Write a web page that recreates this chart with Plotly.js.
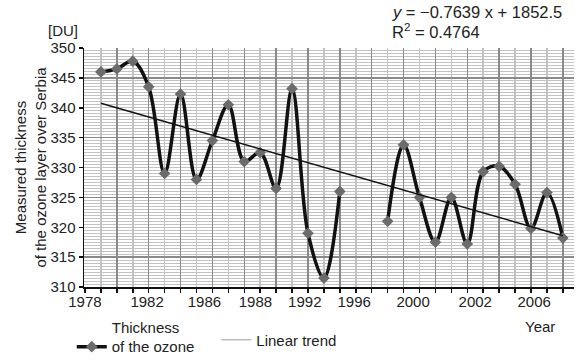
<!DOCTYPE html>
<html><head><meta charset="utf-8">
<script src="https://cdn.plot.ly/plotly-3.0.1.min.js"></script>
<style>html,body{margin:0;padding:0;background:#fff}#chart{width:580px;height:363px}</style>
</head><body><div id="chart"></div>
<script>
// ---- data ----
const years = [1979,1980,1981,1982,1983,1984,1985,1986,1987,1988,1989,1990,1991,1992,1993,1994,1995,1996,1997,1998,1999,2000,2001,2002,2003,2004,2005,2006,2007,2008];
const ozone = [346,346.5,347.8,343.5,329,342.3,328,334.5,340.5,331,332.5,326.5,343.2,319,311.5,326,null,null,321,333.8,325,317.5,325,317.2,329.3,330.2,327.2,319.8,325.8,318.2];
const trendSlope = -0.7639;
const trendIntercept = 1852.5;
const xTickLabels = ['1978','1982','1986','1988','1992','1996','2000','2002','2006'];
const xTickPlaces = [1978.0,1981.9,1985.5,1988.7,1991.8,1994.9,1998.6,2002.5,2006.2];
const seriesName = 'Thickness<br>of the ozone';
const trendName = 'Linear trend';

// ---- chart ----
const FONT = 'Liberation Sans, Arial, Helvetica, sans-serif';
const trendX = [years[0], years[years.length-1]];
const trendY = trendX.map(x => trendSlope*x + trendIntercept);
const xr = [1977.94, 2008.7], yr = [310, 350];
const darkGrid = '#8a8a8a', lightGrid = '#c2c2c2';

const traces = [
  {x: years, y: ozone, type: 'scatter', mode: 'lines+markers', name: seriesName,
   line: {color: '#111', width: 3.5, shape: 'spline', smoothing: 1},
   marker: {symbol: 'diamond', size: 9, color: '#6b6b6b'},
   connectgaps: false, legend: 'legend', xaxis: 'x', yaxis: 'y'},
  {x: trendX, y: trendY, type: 'scatter', mode: 'lines', name: trendName,
   line: {color: '#111', width: 1.5}, showlegend: false, xaxis: 'x2', yaxis: 'y2'},
  {x: [null], y: [null], type: 'scatter', mode: 'lines', name: trendName,
   line: {color: '#bdbdbd', width: 1.5}, legend: 'legend2', xaxis: 'x2', yaxis: 'y2'}
];

const layout = {
  width: 580, height: 363,
  margin: {l: 84, r: 6, t: 48, b: 76, autoexpand: false},
  paper_bgcolor: '#fff', plot_bgcolor: '#fff',
  font: {family: FONT, size: 15, color: '#222'},
  showlegend: true,
  xaxis: {range: xr, tick0: 1978, dtick: 2, showgrid: true, gridcolor: darkGrid, gridwidth: 1.5,
    showticklabels: false, ticks: 'outside', ticklen: 4, tickcolor: '#111', tickwidth: 1.5,
    showline: true, linecolor: '#111', linewidth: 1.5, zeroline: false,
    minor: {tick0: 1978, dtick: 1, showgrid: true, gridcolor: lightGrid, gridwidth: 1.5,
      ticks: 'outside', ticklen: 4, tickcolor: '#111', tickwidth: 1.5}},
  yaxis: {range: yr, tick0: 315, dtick: 10, showgrid: true, gridcolor: darkGrid, gridwidth: 1.5,
    showticklabels: false, ticks: '', zeroline: false, showline: false,
    minor: {tick0: 310, dtick: 0.5, showgrid: true, gridcolor: lightGrid, gridwidth: 1}},
  xaxis2: {overlaying: 'x', matches: 'x', range: xr, tickmode: 'array', tickvals: xTickPlaces, ticktext: xTickLabels,
    showgrid: false, ticks: '', showline: false, zeroline: false, ticklabelstandoff: 4,
    tickfont: {family: FONT, size: 15, color: '#222'}},
  yaxis2: {overlaying: 'y', matches: 'y', range: yr, tick0: 310, dtick: 5, showgrid: false, zeroline: false,
    ticks: 'outside', ticklen: 4, tickcolor: '#111', tickwidth: 1.5,
    showline: true, linecolor: '#111', linewidth: 1.5,
    tickfont: {family: FONT, size: 15, color: '#222'},
    title: {text: 'Measured thickness<br>of the ozone layer over Serbia', font: {family: FONT, size: 15, color: '#222'}, standoff: 0}},
  legend: {orientation: 'h', x: -0.025, xanchor: 'left', y: -0.1, yanchor: 'top',
    font: {family: FONT, size: 15, color: '#222'}, valign: 'bottom', bgcolor: 'rgba(0,0,0,0)', tracegroupgap: 0},
  legend2: {orientation: 'h', x: 0.27, xanchor: 'left', y: -0.222, yanchor: 'middle',
    font: {family: FONT, size: 15, color: '#222'}, bgcolor: 'rgba(0,0,0,0)'},
  annotations: [
    {text: '[DU]', xref: 'paper', yref: 'paper', x: -0.043, y: 1.075, xanchor: 'center', yanchor: 'middle', showarrow: false,
     font: {family: FONT, size: 15, color: '#222'}},
    {text: '<i>y</i> = \u22120.7639 x + 1852.5', xref: 'paper', yref: 'paper', x: 0.625, y: 1.15, xanchor: 'left', yanchor: 'middle', showarrow: false,
     font: {family: FONT, size: 16.5, color: '#222'}},
    {text: 'R<sup>2</sup> = 0.4764', xref: 'paper', yref: 'paper', x: 0.625, y: 1.071, xanchor: 'left', yanchor: 'middle', showarrow: false,
     font: {family: FONT, size: 16.5, color: '#222'}},
    {text: 'Year', xref: 'paper', yref: 'paper', x: 0.931, y: -0.167, xanchor: 'center', yanchor: 'middle', showarrow: false,
     font: {family: FONT, size: 15, color: '#222'}}
  ]
};

Plotly.newPlot('chart', traces, layout, {displayModeBar: false, staticPlot: true});
</script>
</body></html>
